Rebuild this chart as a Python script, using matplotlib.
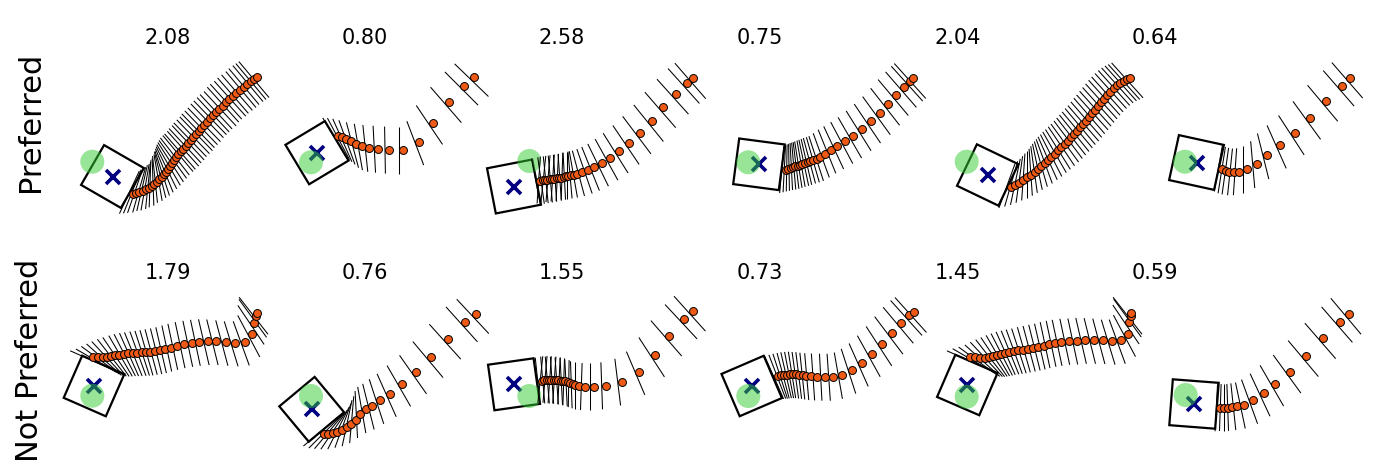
import numpy as np
import matplotlib.pyplot as plt
from matplotlib.patches import Polygon, Circle
from matplotlib.collections import LineCollection

# panel titles (cost), row labels
titles = ['2.08', '0.80', '2.58', '0.75', '2.04', '0.64',
          '1.79', '0.76', '1.55', '0.73', '1.45', '0.59']
rows = ['Preferred', 'Not Preferred']

# object pose (centre + rotation in deg) and goal per panel
box_x = [-55.5, -48, -48, -1, 29.7, 41.5, -74, -53.3, -48, -8.3, 9.3, 39]
box_y = [41.5, 17.7, 51.5, 29.3, 40, 27.5, 16, 39.3, 14.3, 16, 15, 34]
box_ang = [30, -31, -11, 7.5, 25.6, 12.3, 23.7, 50.2, -8, -23.3, 23.4, 4.4]
goal_x = [-75.7, -54, -32.7, -11.7, 8.7, 30, -75.7, -54, -32.7, -11.7, 8.7, 30.7]
goal_y = [26.7, 27.3, 26, 27.3, 26.7, 26.7, 25.7, 26, 26, 26, 26.7, 25]

# pusher trajectories: x, y, and face normal angle (deg)
p1_x = [-35, -32, -29, -25, -22, -19, -16, -14, -11, -9, -6, -4, -2, 0, 2, 4, 6, 8, 10, 13,
        15, 18, 20, 23, 25, 28, 31, 33, 36, 39, 42, 45, 48, 51, 55, 58, 61, 65, 68, 72,
        76, 79, 83, 86, 89]
p1_y = [59, 58, 57, 56, 54, 53, 51, 49, 47, 44, 42, 39, 37, 34, 31, 28, 25, 22, 19, 16,
        14, 11, 8, 5, 2, -1, -4, -7, -10, -13, -17, -20, -23, -26, -29, -33, -36, -39, -42, -45,
        -48, -51, -54, -56, -58]
p1_psi = [-25, -22, -19, -16, -13, -10, -6, -2, 2, 6, 10, 14, 18, 22, 26, 30, 33, 36, 38, 40,
          41, 42, 43, 43, 44, 44, 44, 44, 44, 44, 44, 44, 43, 43, 43, 42, 42, 42, 41, 41,
          40, 40, 40, 40, 40]

p2_x = [-26.7, -23, -19, -14.3, -8.7, -2.7, 4.3, 13.3, 24, 38, 54, 67.7, 84, 99.3, 109.3]
p2_y = [1, 2, 3.7, 6, 9, 11.3, 13, 14, 15, 15, 6.7, -12.3, -32.7, -49.3, -57.7]
p2_psi = [31, 28, 24, 20, 15, 10, 6, 3, 1, 0, 21, 34, 41, 45, 46]

p3_x = [-22, -19.3, -17, -14.7, -12.3, -10, -7.7, -5.3, -3, -0.7, 1.7, 4, 6.3, 9, 12, 15.3,
        20.3, 26.3, 32.3, 39.7, 48, 57, 67.3, 78, 89.7, 101.3, 113.7, 124.7, 131.3]
p3_y = [46, 45.3, 45, 44.7, 44.3, 44, 43.7, 43.3, 43, 42.7, 42, 41.3, 41, 40.3, 39.7, 38.7,
        37.3, 35, 32.3, 28.3, 22.7, 16, 7.7, -2.3, -14.3, -27.7, -41, -51.7, -56.7]
p3_psi = [11, -4, 8, -6, 6, -5, 5, -4, 4, -3, 4, -2, 3, 0, 5, 10,
          15, 19, 22, 26, 29, 32, 34, 37, 39, 41, 42, 42, 41]

p4_x = [25.7, 28.3, 30.7, 33, 35.3, 37.7, 40, 42.3, 45, 47.7, 50.3, 53.3, 56.7, 60, 65,
        70.7, 77.3, 85.3, 93.3, 102, 110.7, 119.7, 128.3, 136.3, 144, 150, 153]
p4_y = [35, 34, 33, 32.3, 31.3, 30.7, 30, 29, 28, 27, 26, 24.7, 23.7, 22.3, 19,
        15, 11, 6, 0.7, -6.3, -13.7, -21.7, -30.7, -40, -48, -54, -56.7]
p4_psi = [-5, -3, -1, 1, 3, 5, 7, 9, 10, 12, 13, 15, 16, 18, 20,
          22, 25, 28, 30, 32, 34, 36, 38, 40, 41, 42, 42]

p5_x = [52.7, 57, 61.3, 65.3, 69.3, 73, 76.7, 80, 83.3, 86.7, 90, 93.3, 96.7, 100, 103.3,
        106.7, 110, 113.3, 116.3, 119.3, 122.3, 125.3, 128.3, 131.3, 134.3, 137.3, 140.3,
        143.3, 146.3, 149.3, 152.3, 155.7, 159, 162.3, 165.7, 169, 172.3]
p5_y = [52.3, 50, 47.7, 45, 42.3, 39.7, 37, 34, 31, 28, 25, 21.7, 18.7, 15.3, 12.3,
        9, 5.7, 2.3, -1, -4.3, -7.7, -11, -14.3, -18, -21.7, -25.3, -29,
        -32.7, -36.3, -40, -43.3, -46.7, -49.7, -52.3, -54.3, -55.7, -57.3]
p5_psi = [-20, -16, -12, -8, -4, 0, 4, 8, 12, 16, 20, 24, 27, 30, 32,
          34, 36, 37, 38, 39, 40, 40, 41, 41, 41, 42, 42,
          42, 42, 42, 42, 42, 42, 42, 42, 42, 42]

p6_x = [67.3, 70.7, 74.3, 79, 84, 92, 101.7, 112, 125.3, 139.7, 155, 170.7, 186.7, 195.3]
p6_y = [34, 35.7, 36.7, 37.3, 37, 34.3, 29.3, 20.3, 10.3, -2, -17, -34.3, -49.3, -57.3]
p6_psi = [-10, -9, -8, -6, -4, 0, 5, 14, 24, 33, 36, 40, 41, 41]

p7_x = [-74.7, -69.7, -65.3, -61.3, -57.3, -53, -48.7, -44, -39.7, -35.3, -31, -26.3, -22,
        -17.7, -13, -8, -3, 2.7, 8.7, 16, 23.7, 31.3, 39.7, 48.3, 57.7, 67, 77, 84.3,
        86.3, 88, 88.7]
p7_y = [-13.3, -12.7, -13, -13.3, -14, -14.7, -15.3, -16, -16.7, -17, -17.3, -17.7, -18,
        -18.3, -19, -19.7, -20.7, -22.3, -24, -25.7, -27, -28, -28.7, -28.7, -28, -27.3, -28,
        -35.7, -47.3, -54, -56.7]
p7_psi = [66, 60, 54, 48, 43, 38, 34, 30, 27, 24, 22, 20, 18, 16, 15, 14, 13, 12, 12, 12,
          12, 12, 13, 14, 15, 17, 20, 28, 34, 36, 38]

p8_x = [-41, -36.7, -32.3, -27.7, -23, -18.3, -14, -9.3, -4.7, 0.7, 7.3, 15.3, 25.3, 37.3,
        51.3, 66, 83, 99.7, 110.7]
p8_y = [64, 64.3, 63.3, 62, 60, 57, 54, 50, 44.3, 39.3, 35.7, 30.3, 23.7, 14,
        2.3, -13, -31, -48.3, -56.3]
p8_psi = [-50, -45, -40, -34, -27, -20, -12, -5, 3, 10, 14, 18, 24, 30, 35, 40, 42, 42, 43]

p9_x = [-20.3, -17.7, -15.3, -13, -10.7, -8.3, -6, -3.7, -1.3, 1, 3.3, 5.7, 8, 10.7, 13.3,
        16.7, 23.3, 32.3, 43.7, 59.7, 77.3, 93, 107.3, 122, 130.7]
p9_y = [10.7, 10, 9.7, 9.7, 9.7, 10, 10, 10.3, 10.7, 11, 11.3, 12, 12.7, 13.7, 14.7,
        15.7, 16.7, 16.7, 15.7, 11.7, 1.7, -15, -34.3, -51, -59]
p9_psi = [6, -6, 5, -5, 5, -4, 4, -4, 4, -3, 3, -2, 3, -1, 2, 0,
          -2, 0, 2, 7, 23, 33, 41, 43, 42]

p10_x = [17.7, 21, 24, 27, 30, 33, 36, 39.3, 42.7, 46.3, 50.7, 57, 64.7, 72.7, 82.3,
         92.3, 102.3, 112.3, 122.3, 132, 141.3, 149.3, 153.7]
p10_y = [5.7, 5.3, 5, 4.7, 4.3, 4.3, 4.3, 4.7, 5, 5.7, 6.3, 6.7, 7, 7, 5,
         0, -6.7, -15.7, -26, -37, -47.3, -54.7, -57.7]
p10_psi = [24, 21, 18, 15, 13, 11, 9, 8, 7, 6, 5, 4, 3, 4, 10,
           18, 24, 29, 33, 37, 40, 42, 42]

p11_x = [12, 17, 22, 27, 31.3, 35.3, 39.3, 43.3, 47.3, 51.3, 55.7, 60, 64.7, 69.7, 75,
         80.3, 85.7, 91, 97, 103, 110.7, 118.7, 127, 135.7, 144.7, 154, 163, 170,
         171.3, 172.7, 172.7]
p11_y = [-13.3, -13, -12.3, -12.3, -13.3, -14.3, -15.3, -16.3, -17.3, -18.3, -19, -19.7,
         -20.3, -21.3, -22.3, -23.3, -24.3, -25.7, -27, -28, -29, -29.3, -30, -30, -29.7,
         -29, -29.7, -36, -47.7, -54.3, -56.7]
p11_psi = [66, 60, 54, 48, 43, 38, 34, 30, 27, 24, 22, 20, 18, 16, 15, 14, 13, 12, 12, 12,
           12, 12, 13, 14, 15, 17, 20, 28, 34, 36, 38]

p12_x = [65.3, 69.3, 73, 76.7, 82.3, 89.3, 98.3, 108.7, 120.3, 135.3, 151.3, 168.3, 185, 194]
p12_y = [38, 37.7, 37.7, 37.3, 36.3, 34.7, 30.3, 23.3, 13.7, 1.7, -14, -31.7, -48, -56.3]
p12_psi = [-3, -2, 0, 2, 6, 12, 20, 25, 30, 36, 40, 41, 41, 40]

trajs = [(p1_x, p1_y, p1_psi), (p2_x, p2_y, p2_psi), (p3_x, p3_y, p3_psi),
         (p4_x, p4_y, p4_psi), (p5_x, p5_y, p5_psi), (p6_x, p6_y, p6_psi),
         (p7_x, p7_y, p7_psi), (p8_x, p8_y, p8_psi), (p9_x, p9_y, p9_psi),
         (p10_x, p10_y, p10_psi), (p11_x, p11_y, p11_psi), (p12_x, p12_y, p12_psi)]

side = 46.0      # object size
face = 47.0      # pusher face length
off = 4.0        # face offset behind contact point
dot_col = '#ee5a16'

fig = plt.figure(figsize=(13.84, 4.7), dpi=100)
W, H = 1384.0, 470.0
centers = [168, 365, 562, 760, 958, 1155]
tops = [55, 290]

for k in range(12):
    r, c = divmod(k, 6)
    ax = fig.add_axes([(centers[c] - 95) / W, (H - tops[r] - 160) / H, 190 / W, 160 / H])
    ax.set_xlim(-95, 95)
    ax.set_ylim(80, -80)
    ax.axis('off')
    ax.set_title(titles[k], fontsize=15, pad=8)

    # object square
    a = np.radians(box_ang[k])
    rot = np.array([[np.cos(a), -np.sin(a)], [np.sin(a), np.cos(a)]])
    h = side / 2
    sq = np.array([[-h, -h], [h, -h], [h, h], [-h, h]]) @ rot.T + [box_x[k], box_y[k]]
    ax.add_patch(Polygon(sq, closed=True, fill=False, ec='k', lw=1.6, clip_on=False, zorder=2))
    ax.plot(box_x[k], box_y[k], 'x', color='navy', ms=10, mew=2.6, clip_on=False, zorder=3)
    ax.add_patch(Circle((goal_x[k], goal_y[k]), 12, fc='limegreen', ec='none', alpha=0.5,
                        clip_on=False, zorder=4))

    # pusher faces
    xs, ys, psi = (np.array(v, dtype=float) for v in trajs[k])
    p = np.radians(psi)
    nx, ny = np.cos(p), -np.sin(p)
    tx, ty = -np.sin(p), -np.cos(p)
    cx = xs - off * nx
    cy = ys - off * ny
    segs = [[(x0 - face / 2 * dx, y0 - face / 2 * dy), (x0 + face / 2 * dx, y0 + face / 2 * dy)]
            for x0, y0, dx, dy in zip(cx, cy, tx, ty)]
    ax.add_collection(LineCollection(segs, colors='k', linewidths=0.75, clip_on=False, zorder=5))
    ax.plot(xs, ys, 'o', mfc=dot_col, mec='k', ms=5.7, mew=0.7, ls='none',
            clip_on=False, zorder=6)

fig.text(30 / W, 1 - 122 / H, rows[0], rotation=90, fontsize=22, ha='center', va='center')
fig.text(30 / W, 1 - 360 / H, rows[1], rotation=90, fontsize=22, ha='center', va='center')

plt.savefig('out.png', dpi=100)
